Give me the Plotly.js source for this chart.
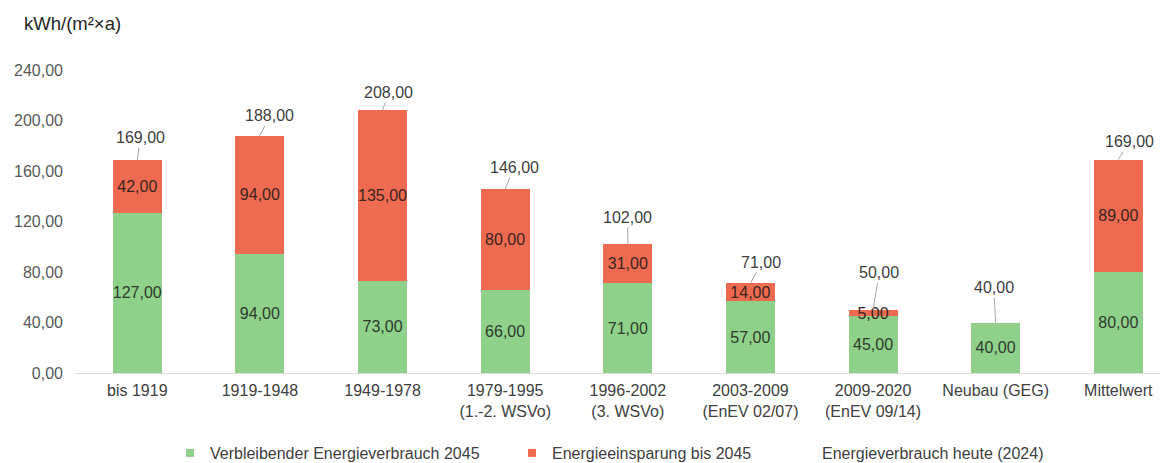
<!DOCTYPE html>
<html>
<head>
<meta charset="utf-8">
<script src="https://cdn.plot.ly/plotly-3.0.1.min.js"></script>
<style>html,body{margin:0;padding:0;background:#fff;}#chart{width:1165px;height:463px;}</style>
</head>
<body>
<div id="chart"></div>
<script>
// ---- Data ----
const categories = ["bis 1919", "1919-1948", "1949-1978", "1979-1995<br>(1.-2. WSVo)", "1996-2002<br>(3. WSVo)",
  "2003-2009<br>(EnEV 02/07)", "2009-2020<br>(EnEV 09/14)", "Neubau (GEG)", "Mittelwert"];
const remaining2045 = [127, 94, 73, 66, 71, 57, 45, 40, 80];
const savings2045 = [42, 94, 135, 80, 31, 14, 5, null, 89];
const today2024 = [169, 188, 208, 146, 102, 71, 50, 40, 169];
const seriesNames = ["Verbleibender Energieverbrauch 2045", "Energieeinsparung bis 2045", "Energieverbrauch heute (2024)"];
const unitLabel = "kWh/(m²×a)";

// ---- Styling (label offsets in px for leader-lined totals) ----
const offX = [3, 10, 6, 9, 0, 11, 6, -2, 11];
const offY = [-22, -20, -18, -21, -27, -21, -37, -35, -18];
const GREEN = "#8FD08A", RED = "#EE6B52";
const FONT = "Liberation Sans, Arial, sans-serif";

const fmt = v => v.toFixed(2).replace(".", ",");

const traces = [
  {type: "bar", x: categories, y: remaining2045, name: seriesNames[0], marker: {color: GREEN},
   text: remaining2045.map(v => v == null ? "" : fmt(v)), textposition: "inside", insidetextanchor: "middle",
   textangle: 0, constraintext: "none", textfont: {family: FONT, size: 16, color: "#2f3a2e"}, width: 0.4,
   showlegend: false, hoverinfo: "x+y"},
  {type: "bar", x: categories, y: savings2045, name: seriesNames[1], marker: {color: RED},
   text: savings2045.map(v => v == null ? "" : fmt(v)), textposition: "inside", insidetextanchor: "middle",
   textangle: 0, constraintext: "none", textfont: {family: FONT, size: 16, color: "#3a2420"}, width: 0.4,
   showlegend: false, hoverinfo: "x+y"},
  // legend-only entries
  {type: "scatter", mode: "markers", x: [null], y: [null], name: seriesNames[0],
   marker: {color: GREEN, symbol: "square", size: 8}, legend: "legend"},
  {type: "scatter", mode: "markers", x: [null], y: [null], name: seriesNames[1],
   marker: {color: RED, symbol: "square", size: 8}, legend: "legend2"},
  {type: "scatter", mode: "markers", x: [null], y: [null], name: seriesNames[2],
   marker: {color: "rgba(0,0,0,0)", symbol: "square", size: 8}, legend: "legend3"}
];

const annotations = today2024.map((v, i) => ({
  x: categories[i], y: v, xref: "x", yref: "y", text: fmt(v), showarrow: true, arrowhead: 0,
  arrowwidth: 1, arrowcolor: "#a6a6a6", ax: offX[i], ay: offY[i], standoff: 0, startstandoff: 0,
  font: {family: FONT, size: 16, color: "#404040"}
}));
annotations.push({xref: "paper", yref: "paper", x: (22 - 76) / 1084, y: 1 + (70 - 24) / 303, xanchor: "left", yanchor: "middle",
  text: unitLabel, showarrow: false, font: {family: FONT, size: 18.5, color: "#262626"}});

const legendBase = {orientation: "h", yref: "container", y: 1 - 453 / 463, yanchor: "middle", xanchor: "left",
  bgcolor: "rgba(0,0,0,0)", font: {family: FONT, size: 16, color: "#404040"}, itemclick: false, itemdoubleclick: false};
const pw = 1084;
const layout = {
  width: 1165, height: 463,
  margin: {l: 76, r: 5, t: 70, b: 90},
  paper_bgcolor: "#fff", plot_bgcolor: "#fff",
  separators: ",.",
  barmode: "stack",
  font: {family: FONT},
  xaxis: {type: "category", range: [-0.5, 8.34], showline: true, linecolor: "#d9d9d9", linewidth: 1,
    showgrid: false, zeroline: false, ticks: "", ticklabelstandoff: 3, tickfont: {family: FONT, size: 16, color: "#404040"},
    fixedrange: true, automargin: false},
  yaxis: {range: [0, 240], tickvals: [0, 40, 80, 120, 160, 200, 240], tickformat: ".2f",
    showgrid: false, zeroline: false, showline: false, ticks: "", ticklabelstandoff: 12,
    tickfont: {family: FONT, size: 16, color: "#595959"}, fixedrange: true, automargin: false},
  showlegend: true,
  legend: Object.assign({}, legendBase, {x: (170 - 76) / pw}),
  legend2: Object.assign({}, legendBase, {x: (512 - 76) / pw}),
  legend3: Object.assign({}, legendBase, {x: (782 - 76) / pw}),
  annotations: annotations
};

Plotly.newPlot("chart", traces, layout, {displayModeBar: false, staticPlot: true});
</script>
</body>
</html>
